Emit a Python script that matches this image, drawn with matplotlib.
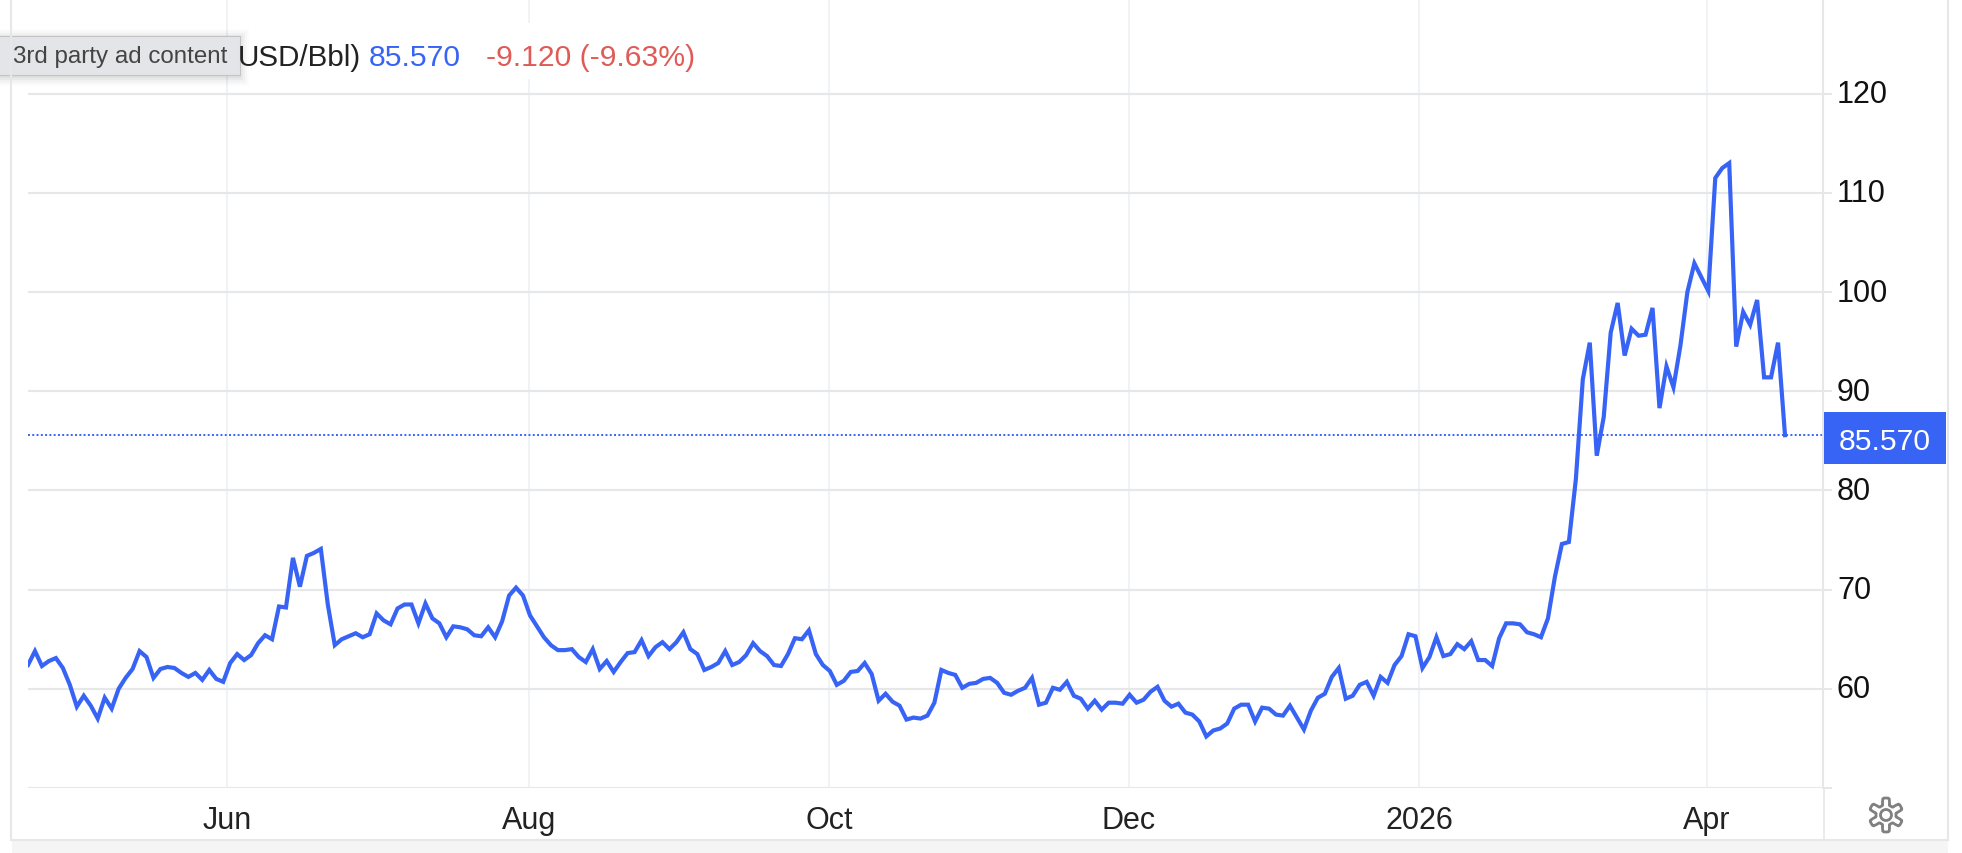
import matplotlib
matplotlib.use('Agg')
import matplotlib.pyplot as plt
import numpy as np
from matplotlib.patches import Rectangle, Polygon, Circle
from matplotlib.transforms import ScaledTranslation

plt.rcParams['font.family'] = ['Liberation Sans', 'DejaVu Sans']

# values, one per trading day
prices = [
    62.4, 63.8, 62.3, 62.8, 63.1, 62.1, 60.4, 58.2, 59.3, 58.3, 57.0, 59.1, 58.0, 60.0, 61.1, 62.0,
    63.8, 63.2, 61.1, 62.0, 62.2, 62.1, 61.6, 61.2, 61.6, 60.9, 61.9, 61.0, 60.7, 62.6, 63.5, 62.9,
    63.4, 64.6, 65.4, 65.0, 68.3, 68.2, 73.2, 70.3, 73.4, 73.7, 74.1, 68.5, 64.4, 65.0, 65.3, 65.6,
    65.2, 65.5, 67.6, 66.9, 66.5, 68.1, 68.5, 68.5, 66.6, 68.6, 67.1, 66.6, 65.2, 66.3, 66.2, 66.0,
    65.4, 65.3, 66.2, 65.2, 66.8, 69.4, 70.2, 69.4, 67.4, 66.3, 65.2, 64.4, 63.9, 63.9, 64.0, 63.2,
    62.7, 64.0, 62.0, 62.8, 61.7, 62.7, 63.6, 63.7, 64.9, 63.3, 64.2,
    64.7, 64.0, 64.7, 65.7, 64.0, 63.5, 61.9, 62.2, 62.6, 63.8, 62.4, 62.7, 63.4, 64.6, 63.8, 63.3,
    62.4, 62.3, 63.5, 65.1, 65.0, 65.9, 63.5, 62.4, 61.8, 60.4, 60.8, 61.7, 61.8, 62.6, 61.5, 58.8,
    59.5, 58.7, 58.3, 56.9, 57.1, 57.0, 57.3, 58.6, 61.9, 61.6, 61.4, 60.1, 60.5, 60.6, 61.0, 61.1,
    60.6, 59.6, 59.4, 59.8, 60.1, 61.1, 58.4, 58.6, 60.1, 59.9, 60.7, 59.3, 59.0, 58.0, 58.8, 57.9,
    58.6, 58.6, 58.5, 59.4, 58.6, 58.9, 59.7, 60.2, 58.8, 58.2, 58.5, 57.6, 57.4, 56.7, 55.2, 55.8,
    56.0, 56.5, 58.0, 58.4, 58.4, 56.7, 58.1, 58.0, 57.4, 57.3, 58.3,
    57.1, 55.9, 57.8, 59.1, 59.5, 61.2, 62.1, 59.0, 59.3, 60.4, 60.7, 59.3, 61.2, 60.6, 62.4, 63.3,
    65.5, 65.3, 62.1, 63.2, 65.2, 63.3, 63.5, 64.5, 64.0, 64.8, 62.9, 62.9, 62.3, 65.1, 66.6, 66.6,
    66.5, 65.7, 65.5, 65.2, 67.1, 71.3, 74.6, 74.8, 81.1,
    91.2, 94.9, 83.5, 87.4, 95.9, 98.9, 93.6, 96.3, 95.6, 95.7, 98.4, 88.3, 92.5, 90.4, 94.6, 100.0,
    102.9, 101.5, 100.1, 111.5, 112.5, 113.0, 94.5, 98.0, 96.7, 99.2, 91.4, 91.4, 94.9, 85.57,
]
last_price = 85.57
month_labels = ['Jun', 'Aug', 'Oct', 'Dec', '2026', 'Apr']
month_px = [227, 529, 829, 1129, 1419, 1707]
y_ticks = [50, 60, 70, 80, 90, 100, 110, 120]
y_labels = ['', '60', '70', '80', '90', '100', '110', '120']

W, H = 1962, 854
BLUE = '#3864f6'
RED = '#e05a56'
GRID = '#e6e7e9'
VGRID = '#edf1f5'

fig = plt.figure(figsize=(W / 100, H / 100), dpi=100, facecolor='white')
ax = fig.add_axes([28 / W, (H - 789) / H, (1823 - 28) / W, 789 / H])

px_per_day = (1785 - 28) / (len(prices) - 1)
ax.set_xlim(0, (1823 - 28) / px_per_day)
ax.set_ylim(50, 50 + 789 / 9.919)

ax.plot(np.arange(len(prices)), prices, color=BLUE, lw=3.0, solid_joinstyle='miter', zorder=3)
ax.axhline(last_price, color=BLUE, lw=1.4, ls=(0, (1, 1.2)), zorder=2)

ax.set_xticks([(p - 28) / px_per_day for p in month_px])
ax.set_xticklabels(month_labels)
ax.set_yticks(y_ticks)
ax.set_yticklabels(y_labels)
ax.yaxis.tick_right()
ax.tick_params(axis='x', length=0, pad=12, labelsize=22, labelcolor='#222222')
ax.tick_params(axis='y', length=6.5, width=1.4, color=GRID, pad=3.5, labelsize=22, labelcolor='#111111')
ax.grid(axis='y', color=GRID, lw=1.5)
ax.grid(axis='x', color=VGRID, lw=1.2)
ax.set_axisbelow(True)
for s in ['top', 'left', 'bottom']:
    ax.spines[s].set_visible(False)
ax.spines['right'].set_color(GRID)
ax.spines['right'].set_linewidth(1.5)

# y labels sit a little above their gridlines
shift = ScaledTranslation(0, 3 / 100, fig.dpi_scale_trans)
for lab in ax.get_yticklabels():
    lab.set_transform(lab.get_transform() + shift)

# page chrome, drawn in pixel coordinates
ov = fig.add_axes([0, 0, 1, 1], zorder=5)
ov.set_xlim(0, W)
ov.set_ylim(H, 0)
ov.axis('off')

ov.add_patch(Rectangle((12, 841), 1936, 13, fc='#f5f5f5', ec='none'))
ov.plot([11, 1948], [841, 841], color=GRID, lw=1.5)
ov.plot([11, 11], [0, 841], color=GRID, lw=1.5)
ov.plot([1948, 1948], [0, 841], color=GRID, lw=1.5)
ov.plot([1824, 1824], [789, 841], color=GRID, lw=1.2)

# legend line on white, hides the grid behind it
ov.add_patch(Rectangle((235, 24), 470, 56, fc='white', ec='none'))
ov.text(238, 66, 'USD/Bbl)', fontsize=21.3, color='#222222')
ov.text(369, 66, '85.570', fontsize=21.7, color=BLUE)
ov.text(486, 66, '-9.120 (-9.63%)', fontsize=21.7, color=RED)

# ad tooltip with soft shadow
for grow, alpha in [(9, 0.012), (7, 0.018), (5, 0.025), (3, 0.03), (1, 0.04)]:
    ov.add_patch(Rectangle((-5, 37 - grow + 2), 245 + grow, 39 + 2 * grow, fc='black', ec='none', alpha=alpha))
ov.add_patch(Rectangle((-5, 37), 245, 39, fc='#e4e5e9', ec='#c4c4c8', lw=0.8))
ov.text(13, 63, '3rd party ad content', fontsize=17.4, color='#444444')

# last price tag
ov.add_patch(Rectangle((1824, 413), 122, 52, fc=BLUE, ec='none'))
ov.text(1885, 442, '85.570', fontsize=21.7, color='white', ha='center', va='center')

# settings gear
t = np.linspace(0, 2 * np.pi, 96, endpoint=False)
r = 13.5 + 3.5 * np.clip(2.2 * np.cos(6 * t), -1, 1)
ov.add_patch(Polygon(np.c_[1886 + r * np.sin(t), 816 + r * np.cos(t)], closed=True, fc='none', ec='#808080', lw=2))
ov.add_patch(Circle((1886, 816), 5.5, fc='none', ec='#808080', lw=2))

fig.savefig('out.png', dpi=100)
